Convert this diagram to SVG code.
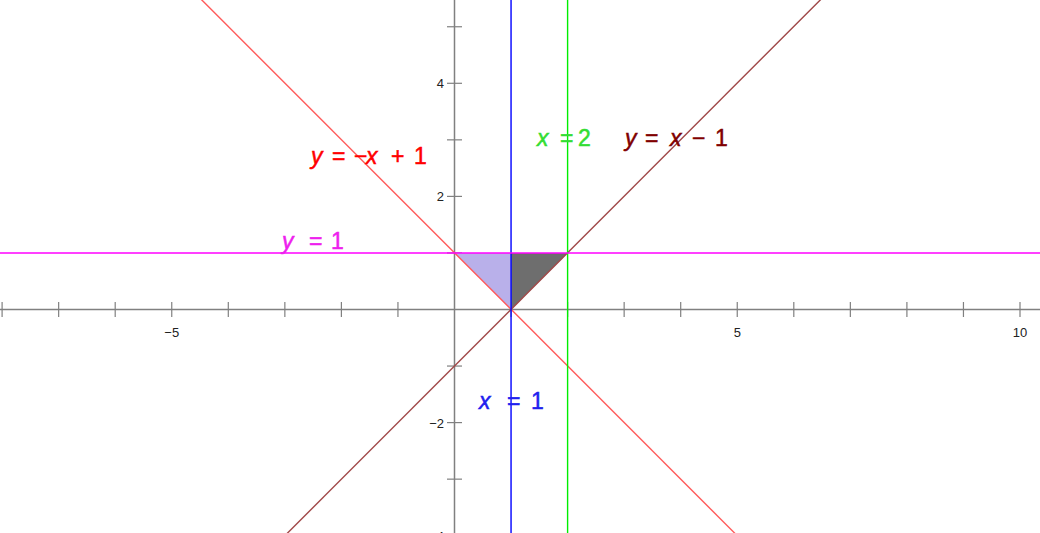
<svg xmlns="http://www.w3.org/2000/svg" width="1040" height="533" viewBox="0 0 1040 533">
<style>
.axis{stroke:#808080;stroke-width:1.5;fill:none}
.tick{stroke:#808080;stroke-width:1.2}
.num{font-family:"Liberation Sans",Arial,sans-serif;font-size:13px;fill:#222}
.lbl{font-family:"Liberation Sans",Arial,sans-serif;font-size:23px;stroke-width:0.5}
.it{font-style:italic}
.ln{stroke-width:1.4;fill:none}
</style>
<rect width="1040" height="533" fill="#ffffff"/>
<g id="axes">
<line class="axis" x1="0" y1="309.5" x2="1040" y2="309.5"/>
<line class="axis" x1="454.5" y1="0" x2="454.5" y2="533"/>
<g id="xticks">
<line class="tick" x1="2.1" y1="302" x2="2.1" y2="317"/>
<line class="tick" x1="58.65" y1="302" x2="58.65" y2="317"/>
<line class="tick" x1="115.2" y1="302" x2="115.2" y2="317"/>
<line class="tick" x1="171.75" y1="302" x2="171.75" y2="317"/>
<line class="tick" x1="228.3" y1="302" x2="228.3" y2="317"/>
<line class="tick" x1="284.85" y1="302" x2="284.85" y2="317"/>
<line class="tick" x1="341.4" y1="302" x2="341.4" y2="317"/>
<line class="tick" x1="397.95" y1="302" x2="397.95" y2="317"/>
<line class="tick" x1="511.05" y1="302" x2="511.05" y2="317"/>
<line class="tick" x1="567.6" y1="302" x2="567.6" y2="317"/>
<line class="tick" x1="624.15" y1="302" x2="624.15" y2="317"/>
<line class="tick" x1="680.7" y1="302" x2="680.7" y2="317"/>
<line class="tick" x1="737.25" y1="302" x2="737.25" y2="317"/>
<line class="tick" x1="793.8" y1="302" x2="793.8" y2="317"/>
<line class="tick" x1="850.35" y1="302" x2="850.35" y2="317"/>
<line class="tick" x1="906.9" y1="302" x2="906.9" y2="317"/>
<line class="tick" x1="963.45" y1="302" x2="963.45" y2="317"/>
<line class="tick" x1="1020" y1="302" x2="1020" y2="317"/>
</g>
<g id="yticks">
<line class="tick" x1="447" y1="26.75" x2="462" y2="26.75"/>
<line class="tick" x1="447" y1="83.3" x2="462" y2="83.3"/>
<line class="tick" x1="447" y1="139.85" x2="462" y2="139.85"/>
<line class="tick" x1="447" y1="196.4" x2="462" y2="196.4"/>
<line class="tick" x1="447" y1="252.95" x2="462" y2="252.95"/>
<line class="tick" x1="447" y1="366.05" x2="462" y2="366.05"/>
<line class="tick" x1="447" y1="422.6" x2="462" y2="422.6"/>
<line class="tick" x1="447" y1="479.15" x2="462" y2="479.15"/>
<line class="tick" x1="447" y1="535.7" x2="462" y2="535.7"/>
</g>
<g id="ticklabels">
<text class="num" x="171.75" y="337" text-anchor="middle">−5</text>
<text class="num" x="737.25" y="337" text-anchor="middle">5</text>
<text class="num" x="1020" y="337" text-anchor="middle">10</text>
<text class="num" x="444" y="88" text-anchor="end">4</text>
<text class="num" x="444" y="201" text-anchor="end">2</text>
<text class="num" x="444" y="428" text-anchor="end">−2</text>
<text class="num" x="444" y="541" text-anchor="end">−4</text>
</g>
</g>
<g id="regions">
<polygon id="region-left" points="454.5,252.95 511.05,252.95 511.05,309.5" fill="#b9b0ea"/>
<polygon id="region-right" points="511.05,252.95 567.6,252.95 511.05,309.5" fill="#6e6e6e"/>
</g>
<g id="connectors">
<line id="line-neg" class="ln" x1="171.75" y1="-30.1" x2="793.8" y2="592.3" stroke="#ff5a5a"/>
<line id="line-pos" class="ln" x1="228.3" y1="592.3" x2="850.35" y2="-30.1" stroke="#a04848"/>
<line id="line-x1" class="ln" x1="511.05" y1="0" x2="511.05" y2="533" stroke="#0000ff"/>
<line id="line-x2" class="ln" x1="567.6" y1="0" x2="567.6" y2="533" stroke="#00ee00"/>
<line id="line-y1" class="ln" x1="0" y1="252.95" x2="1040" y2="252.95" stroke="#ff00ff"/>
</g>
<g id="label-neg"><text class="lbl" y="164" fill="#ff0000" stroke="#ff0000"><tspan class="it" x="311">y</tspan><tspan x="332">=</tspan><tspan x="354">−</tspan><tspan class="it" x="366">x</tspan><tspan x="391">+</tspan><tspan x="414">1</tspan></text></g>
<g id="label-x2"><text class="lbl" y="146" fill="#33dd33" stroke="#33dd33"><tspan class="it" x="537">x</tspan><tspan x="560">=</tspan><tspan x="578">2</tspan></text></g>
<g id="label-pos"><text class="lbl" y="146" fill="#800000" stroke="#800000"><tspan class="it" x="625">y</tspan><tspan x="645">=</tspan><tspan class="it" x="670">x</tspan><tspan x="692">−</tspan><tspan x="715">1</tspan></text></g>
<g id="label-x1"><text class="lbl" y="409" fill="#2020ee" stroke="#2020ee"><tspan class="it" x="479">x</tspan><tspan x="507">=</tspan><tspan x="531">1</tspan></text></g>
<g id="label-y1"><text class="lbl" y="249" fill="#ee20ee" stroke="#ee20ee"><tspan class="it" x="282">y</tspan><tspan x="309">=</tspan><tspan x="331">1</tspan></text></g>
</svg>
